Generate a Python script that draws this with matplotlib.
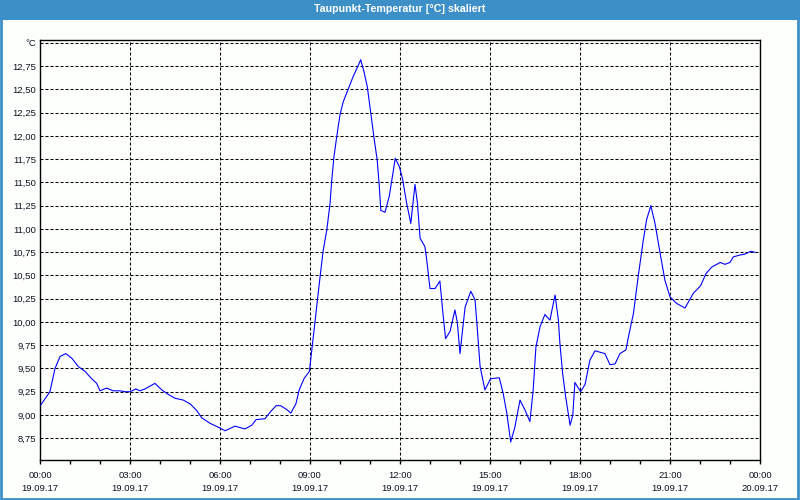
import matplotlib
matplotlib.use("Agg")
import matplotlib.pyplot as plt
from matplotlib.patches import Rectangle
from matplotlib.ticker import FixedLocator, MultipleLocator

# Data: hours since 19.09.17 00:00, dew point in °C
hours = [0.03, 0.33, 0.5, 0.67, 0.86, 1.06, 1.28, 1.5, 1.72, 1.89, 2.0, 2.22, 2.44, 2.67, 2.83,
         3.0, 3.2, 3.33, 3.5, 3.83, 4.06, 4.28, 4.5, 4.78, 5.0, 5.22, 5.39, 5.67, 6.0, 6.17,
         6.5, 6.83, 7.06, 7.2, 7.5, 7.67, 7.87, 8.02, 8.22, 8.36, 8.53, 8.64, 8.8, 8.98,
         9.33, 9.44, 9.56, 9.67, 9.72, 9.8, 9.89, 10.0, 10.11, 10.28, 10.44, 10.61, 10.69,
         10.8, 10.91, 11.02, 11.13, 11.24, 11.31, 11.36, 11.5, 11.64, 11.78, 11.84, 11.98,
         12.09, 12.22, 12.36, 12.5, 12.58, 12.67, 12.83, 12.89, 13.0, 13.17, 13.33, 13.42,
         13.52, 13.67, 13.83, 13.91, 14.0, 14.17, 14.36, 14.5, 14.56, 14.67, 14.83, 15.02,
         15.31, 15.44, 15.56, 15.69, 15.83, 16.0, 16.17, 16.33, 16.44, 16.53, 16.67, 16.83,
         17.0, 17.11, 17.17, 17.28, 17.33, 17.42, 17.52, 17.67, 17.76, 17.83, 18.02, 18.17,
         18.33, 18.5, 18.83, 19.0, 19.17, 19.33, 19.53, 19.64, 19.78, 19.94, 20.11, 20.22,
         20.36, 20.5, 20.67, 20.83, 21.0, 21.22, 21.5, 21.78, 22.02, 22.2, 22.39, 22.67,
         22.83, 23.0, 23.11, 23.33, 23.5, 23.69, 23.83]
dewpoint = [9.11, 9.25, 9.5, 9.63, 9.66, 9.61, 9.52, 9.47, 9.39, 9.34, 9.26, 9.29, 9.26, 9.26, 9.25,
            9.25, 9.28, 9.26, 9.28, 9.34, 9.27, 9.22, 9.18, 9.16, 9.12, 9.05, 8.97, 8.91, 8.86, 8.83,
            8.88, 8.85, 8.89, 8.95, 8.96, 9.03, 9.1, 9.1, 9.06, 9.02, 9.12, 9.27, 9.39, 9.47,
            10.47, 10.77, 10.99, 11.28, 11.51, 11.78, 11.99, 12.23, 12.37, 12.51, 12.64, 12.76, 12.82,
            12.69, 12.53, 12.26, 11.99, 11.74, 11.46, 11.2, 11.18, 11.35, 11.63, 11.76, 11.67,
            11.53, 11.28, 11.06, 11.48, 11.28, 10.9, 10.81, 10.67, 10.36, 10.36, 10.44, 10.13,
            9.82, 9.9, 10.13, 10.0, 9.66, 10.16, 10.33, 10.24, 10.0, 9.52, 9.27, 9.39,
            9.4, 9.23, 9.02, 8.71, 8.87, 9.16, 9.05, 8.93, 9.27, 9.73, 9.95, 10.08,
            10.02, 10.2, 10.29, 10.02, 9.77, 9.45, 9.2, 8.89, 9.0, 9.35, 9.25, 9.33,
            9.59, 9.69, 9.66, 9.54, 9.55, 9.66, 9.7, 9.88, 10.09, 10.49, 10.88, 11.1,
            11.25, 11.06, 10.74, 10.45, 10.27, 10.2, 10.15, 10.31, 10.39, 10.52, 10.59, 10.64,
            10.62, 10.64, 10.7, 10.72, 10.73, 10.76, 10.75]

y_ticks = [8.75, 9.0, 9.25, 9.5, 9.75, 10.0, 10.25, 10.5, 10.75, 11.0, 11.25, 11.5,
           11.75, 12.0, 12.25, 12.5, 12.75, 13.0]
y_labels = ["8,75", "9,00", "9,25", "9,50", "9,75", "10,00", "10,25", "10,50", "10,75",
            "11,00", "11,25", "11,50", "11,75", "12,00", "12,25", "12,50", "12,75", "°C"]
x_ticks = [0, 3, 6, 9, 12, 15, 18, 21, 24]
x_labels = ["00:00\n19.09.17", "03:00\n19.09.17", "06:00\n19.09.17", "09:00\n19.09.17",
            "12:00\n19.09.17", "15:00\n19.09.17", "18:00\n19.09.17", "21:00\n19.09.17",
            "00:00\n20.09.17"]
title = "Taupunkt-Temperatur [°C] skaliert"

blue_bar = "#3d8fc8"
plt.rcParams['font.family'] = ['Liberation Sans', 'DejaVu Sans']

fig = plt.figure(figsize=(8, 5), dpi=100)
fig.patch.set_facecolor("#fdfffd")

# title bar and window frame
fig.patches.append(Rectangle((0, 1 - 20 / 500), 1, 20 / 500, transform=fig.transFigure,
                             facecolor=blue_bar, edgecolor="none", zorder=0))
fig.patches.append(Rectangle((0.5 / 800, 1.5 / 500), 1 - 2.5 / 800, 1 - 3 / 500,
                             transform=fig.transFigure, facecolor="none",
                             edgecolor=blue_bar, linewidth=2, zorder=0))
fig.text(0.5, 1 - 9.5 / 500, title, color="white", fontsize=7.7, fontweight="bold",
         ha="center", va="center")

ax = fig.add_axes([40 / 800, 40 / 500, 720 / 800, 420 / 500])
ax.set_facecolor("#fdfffd")
ax.plot(hours, dewpoint, color="#0000ff", linewidth=0.8, zorder=3)

ax.set_xlim(0, 24)
ax.set_ylim(8.516, 13.032)

ax.yaxis.set_major_locator(FixedLocator(y_ticks))
ax.set_yticklabels(y_labels)
ax.xaxis.set_major_locator(FixedLocator(x_ticks))
ax.set_xticklabels(x_labels, linespacing=1.6)
ax.xaxis.set_minor_locator(MultipleLocator(1))

ax.tick_params(axis="y", which="both", length=0, pad=3, labelsize=6.8, labelcolor="#101020")
ax.tick_params(axis="x", which="both", length=3, width=1, direction="out", pad=5,
               labelsize=6.8, labelcolor="#101020")

ax.grid(True, which="major", color="black", linestyle=(0, (2.9, 1.9)), linewidth=0.75,
        zorder=1)

for s in ax.spines.values():
    s.set_linewidth(1)
    s.set_color("black")

fig.savefig("out.png", dpi=100, facecolor=fig.get_facecolor())
